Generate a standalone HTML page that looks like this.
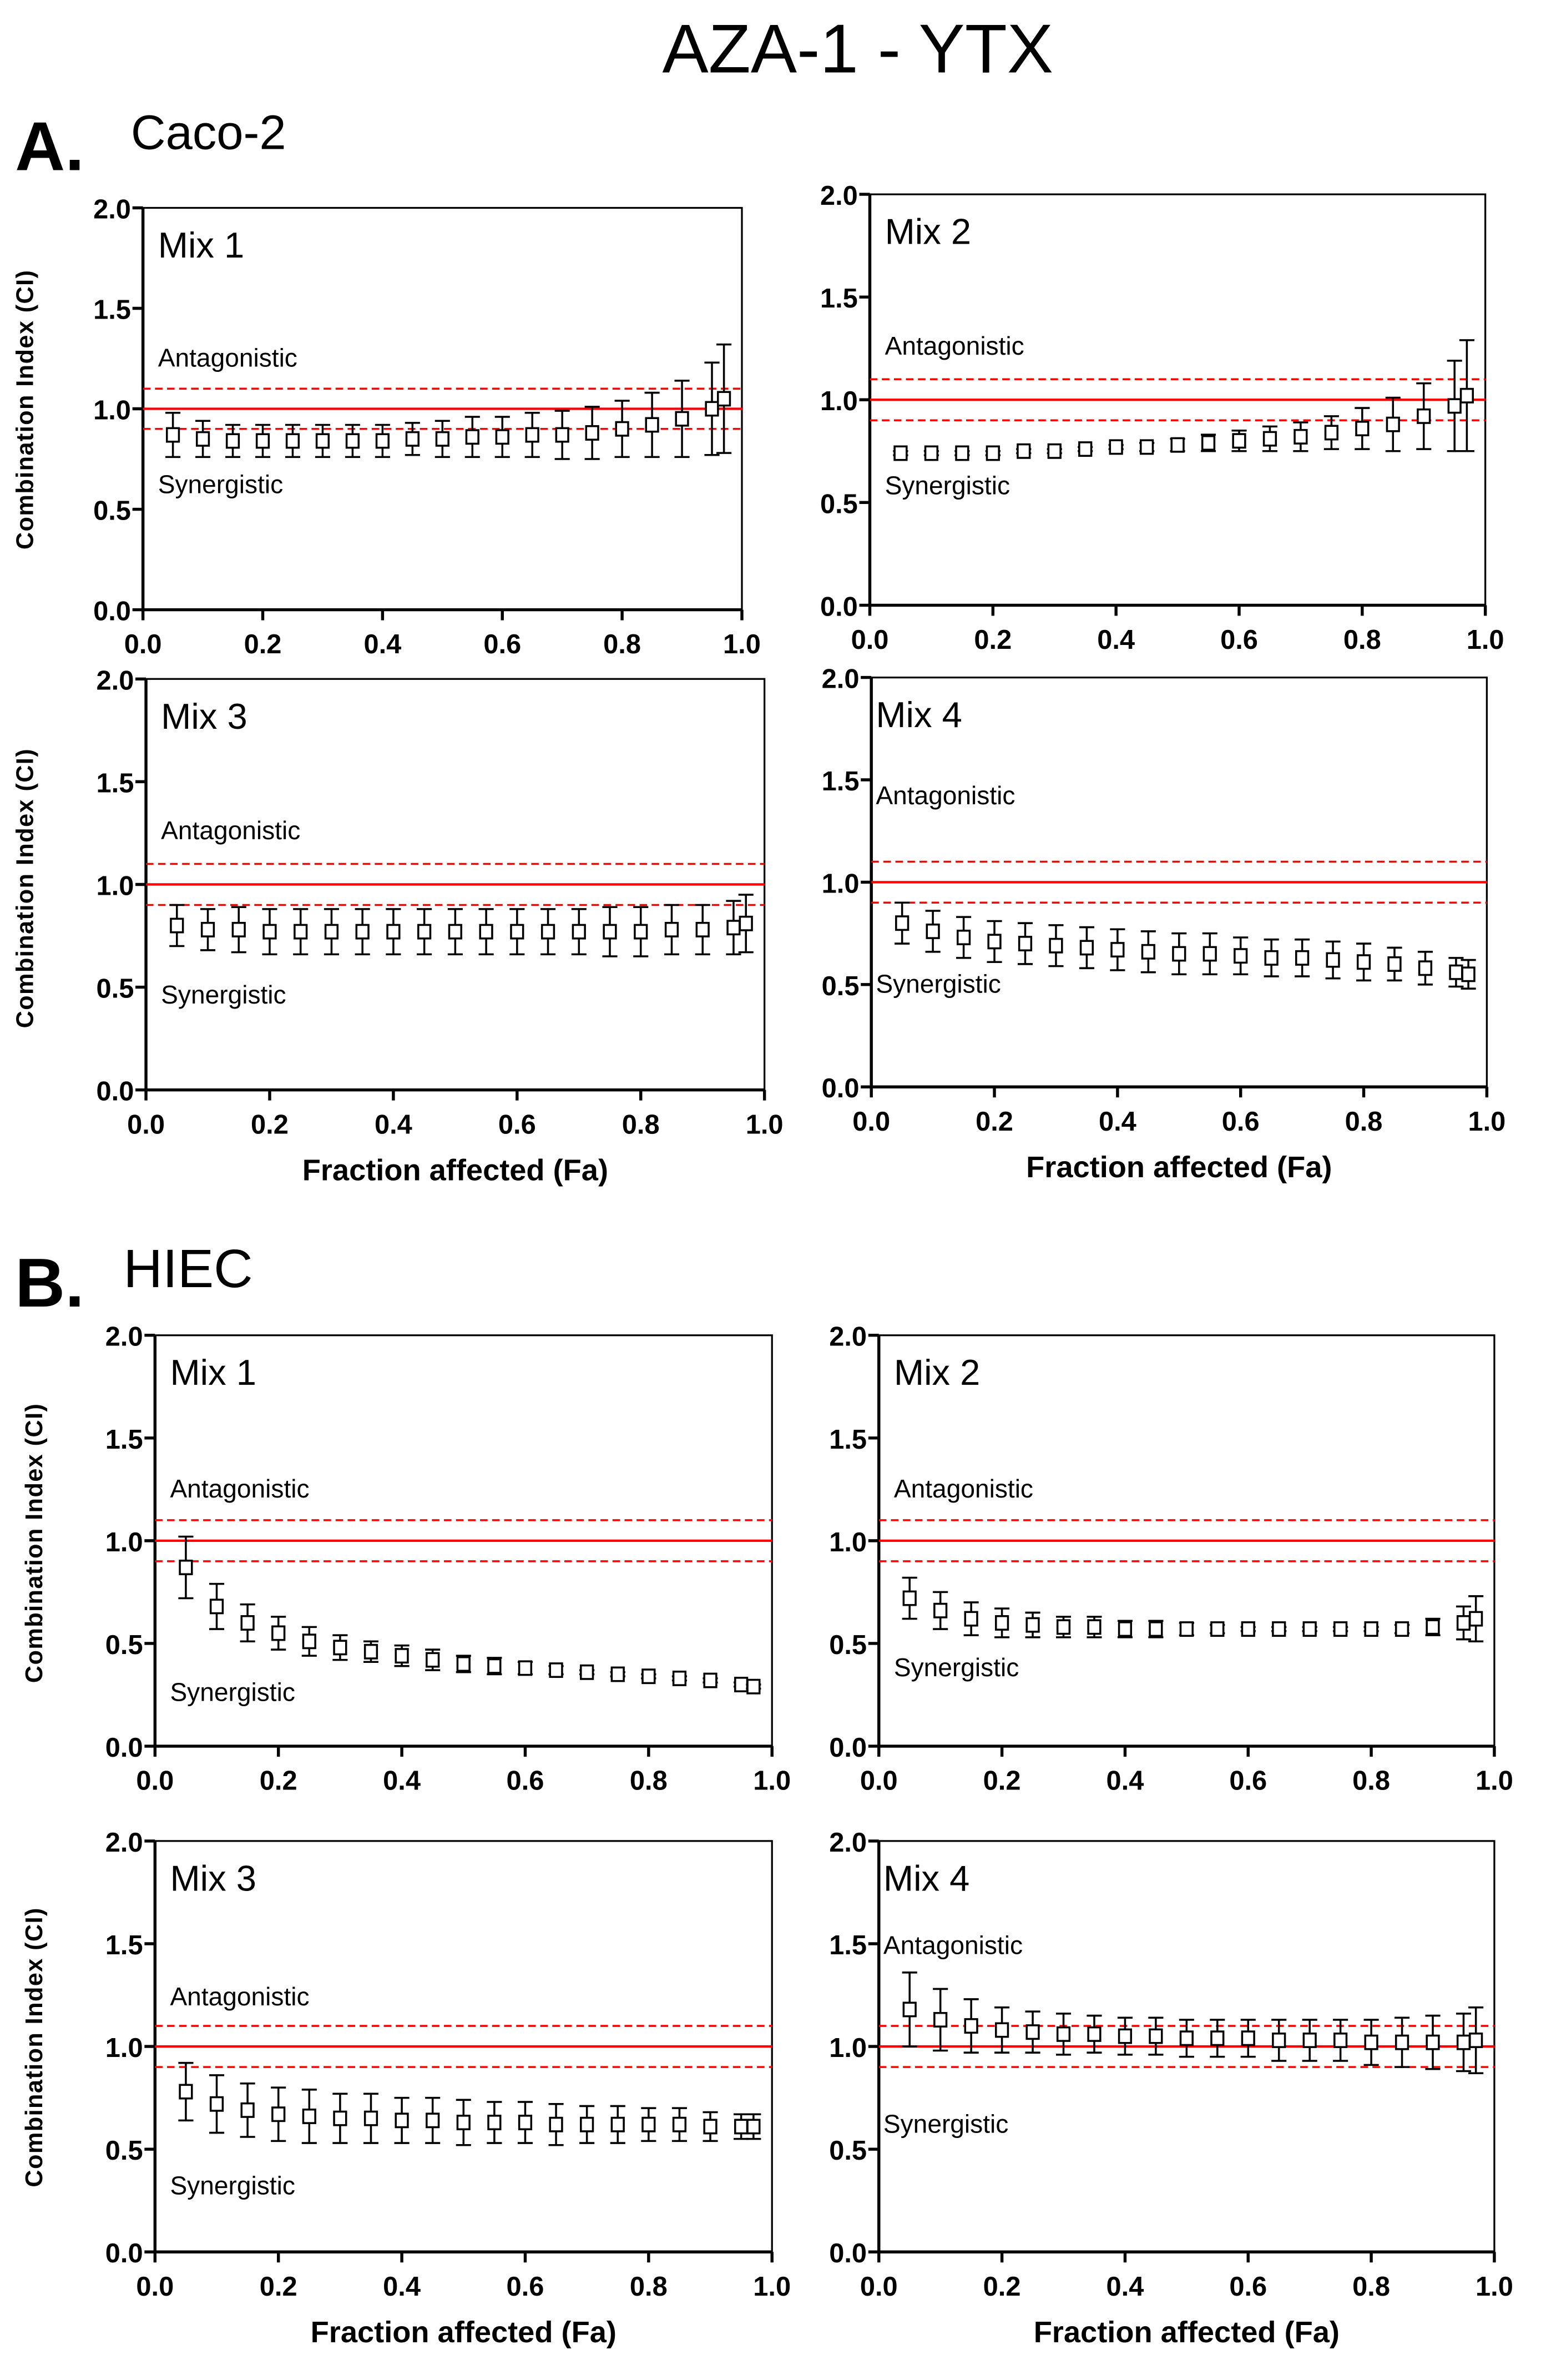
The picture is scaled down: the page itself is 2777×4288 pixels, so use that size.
<!DOCTYPE html>
<html><head><meta charset="utf-8">
<style>
html,body{margin:0;padding:0;background:#fff;}
svg{display:block;font-family:"Liberation Sans",Arial,sans-serif;}
</style></head>
<body>
<svg id="fig" width="2777" height="4288" viewBox="0 0 1024 1581" xmlns="http://www.w3.org/2000/svg">
<text x="570" y="48" font-size="46" text-anchor="middle">AZA-1 - YTX</text>
<text x="10" y="113" font-size="46" font-weight="bold">A.</text>
<text x="87" y="99" font-size="32">Caco-2</text>
<text x="10" y="868" font-size="46" font-weight="bold">B.</text>
<text x="82" y="855" font-size="36">HIEC</text>
<g id="panels"></g>
</svg>
<script>
const fa = [0.05,0.1,0.15,0.2,0.25,0.3,0.35,0.4,0.45,0.5,0.55,0.6,0.65,0.7,0.75,0.8,0.85,0.9,0.95,0.97];
const xTicks = ["0.0","0.2","0.4","0.6","0.8","1.0"];
const yTicks = ["0.0","0.5","1.0","1.5","2.0"];
const a1Ci = [0.87,0.85,0.84,0.84,0.84,0.84,0.84,0.84,0.85,0.85,0.86,0.86,0.87,0.87,0.88,0.9,0.92,0.95,1.0,1.05];
const a1Err = [0.11,0.09,0.08,0.08,0.08,0.08,0.08,0.08,0.08,0.09,0.1,0.1,0.11,0.12,0.13,0.14,0.16,0.19,0.23,0.27];
const a2Ci = [0.74,0.74,0.74,0.74,0.75,0.75,0.76,0.77,0.77,0.78,0.79,0.8,0.81,0.82,0.84,0.86,0.88,0.92,0.97,1.02];
const a2Err = [0.01,0.01,0.01,0.01,0.01,0.01,0.01,0.01,0.02,0.03,0.04,0.05,0.06,0.07,0.08,0.1,0.13,0.16,0.22,0.27];
const a3Ci = [0.8,0.78,0.78,0.77,0.77,0.77,0.77,0.77,0.77,0.77,0.77,0.77,0.77,0.77,0.77,0.77,0.78,0.78,0.79,0.81];
const a3Err = [0.1,0.1,0.11,0.11,0.11,0.11,0.11,0.11,0.11,0.11,0.11,0.11,0.11,0.11,0.12,0.12,0.12,0.12,0.13,0.14];
const a4Ci = [0.8,0.76,0.73,0.71,0.7,0.69,0.68,0.67,0.66,0.65,0.65,0.64,0.63,0.63,0.62,0.61,0.6,0.58,0.56,0.55];
const a4Err = [0.1,0.1,0.1,0.1,0.1,0.1,0.1,0.1,0.1,0.1,0.1,0.09,0.09,0.09,0.09,0.09,0.08,0.08,0.07,0.07];
const b1Ci = [0.87,0.68,0.6,0.55,0.51,0.48,0.46,0.44,0.42,0.4,0.39,0.38,0.37,0.36,0.35,0.34,0.33,0.32,0.3,0.29];
const b1Err = [0.15,0.11,0.09,0.08,0.07,0.06,0.05,0.05,0.05,0.04,0.04,0.03,0.02,0.01,0.01,0.01,0.01,0.01,0.01,0.01];
const b2Ci = [0.72,0.66,0.62,0.6,0.59,0.58,0.58,0.57,0.57,0.57,0.57,0.57,0.57,0.57,0.57,0.57,0.57,0.58,0.6,0.62];
const b2Err = [0.1,0.09,0.08,0.07,0.06,0.05,0.05,0.04,0.04,0.03,0.02,0.01,0.01,0.01,0.01,0.01,0.02,0.04,0.08,0.11];
const b3Ci = [0.78,0.72,0.69,0.67,0.66,0.65,0.65,0.64,0.64,0.63,0.63,0.63,0.62,0.62,0.62,0.62,0.62,0.61,0.61,0.61];
const b3Err = [0.14,0.14,0.13,0.13,0.13,0.12,0.12,0.11,0.11,0.11,0.1,0.1,0.1,0.09,0.09,0.08,0.08,0.07,0.06,0.06];
const b4Ci = [1.18,1.13,1.1,1.08,1.07,1.06,1.06,1.05,1.05,1.04,1.04,1.04,1.03,1.03,1.03,1.02,1.02,1.02,1.02,1.03];
const b4Err = [0.18,0.15,0.13,0.11,0.1,0.1,0.09,0.09,0.09,0.09,0.09,0.09,0.1,0.1,0.1,0.11,0.12,0.13,0.14,0.16];

const NS="http://www.w3.org/2000/svg";
const root=document.getElementById('panels');
function mk(tag,attrs,parent){const e=document.createElementNS(NS,tag);for(const k in attrs)e.setAttribute(k,attrs[k]);parent.appendChild(e);return e;}

const panels=[
 {id:'a-mix1',title:'Mix 1',x0:95,x1:493,y0:405,y1:138,ci:a1Ci,err:a1Err,ant:1.21,syn:0.58,ylab:272,ylx:22},
 {id:'a-mix2',title:'Mix 2',x0:578,x1:987,y0:402,y1:129,ci:a2Ci,err:a2Err,ant:1.22,syn:0.54},
 {id:'a-mix3',title:'Mix 3',x0:97,x1:508,y0:724,y1:451,ci:a3Ci,err:a3Err,ant:1.22,syn:0.42,ylab:590,ylx:22,xlab:784},
 {id:'a-mix4',title:'Mix 4',x0:579,x1:988,y0:722,y1:450,ci:a4Ci,err:a4Err,ant:1.38,syn:0.46,xlab:782,tx:3},
 {id:'b-mix1',title:'Mix 1',x0:103,x1:513,y0:1160,y1:887,ci:b1Ci,err:b1Err,ant:1.21,syn:0.22,ylab:1025,ylx:28},
 {id:'b-mix2',title:'Mix 2',x0:584,x1:993,y0:1160,y1:887,ci:b2Ci,err:b2Err,ant:1.21,syn:0.34},
 {id:'b-mix3',title:'Mix 3',x0:103,x1:513,y0:1496,y1:1223,ci:b3Ci,err:b3Err,ant:1.2,syn:0.28,ylab:1360,ylx:28,xlab:1556},
 {id:'b-mix4',title:'Mix 4',x0:584,x1:993,y0:1496,y1:1223,ci:b4Ci,err:b4Err,ant:1.45,syn:0.58,xlab:1556,tx:3}
];

panels.forEach(p=>{
 const g=mk('g',{},root);
 
 
 const X=v=>p.x0+(p.x1-p.x0)*v;
 const Y=v=>p.y0+(p.y1-p.y0)*v/2;
 // frame
 const fr=mk('path',{d:`M${p.x0} ${p.y1} H${p.x1} V${p.y0}`,fill:'none',stroke:'#000','stroke-width':1.2},g);
 
 
 const ax=mk('path',{d:`M${p.x0} ${p.y1} V${p.y0} H${p.x1}`,fill:'none',stroke:'#000','stroke-width':2},g);
 
 
 // ticks
 xTicks.forEach(t=>{const v=parseFloat(t);const x=X(v);
  mk('line',{x1:x,x2:x,y1:p.y0,y2:p.y0+7,stroke:'#000','stroke-width':2},g);
  const tt=mk('text',{x:x,y:p.y0+29,'font-size':18,'font-weight':'bold','text-anchor':'middle'},g);
  tt.textContent=t;
  
  
 });
 yTicks.forEach(t=>{const v=parseFloat(t);const y=Y(v);
  mk('line',{x1:p.x0-7,x2:p.x0,y1:y,y2:y,stroke:'#000','stroke-width':2},g);
  const tt=mk('text',{x:p.x0-8,y:y+7,'font-size':18,'font-weight':'bold','text-anchor':'end'},g);
  tt.textContent=t;
  
  
 });
 // reference lines
 const r1=mk('line',{x1:p.x0,x2:p.x1,y1:Y(1),y2:Y(1),stroke:'#f00','stroke-width':1.6},g);
 
 
 [1.1,0.9].forEach(v=>{
  const r=mk('line',{x1:p.x0,x2:p.x1,y1:Y(v),y2:Y(v),stroke:'#f00','stroke-width':1.3,'stroke-dasharray':'5 3'},g);
  
  
 });
 // labels
 const tx=p.tx||10;
 const tl=mk('text',{x:p.x0+tx,y:p.y1+33,'font-size':24},g);tl.textContent=p.title;
 
 
 const an=mk('text',{x:p.x0+tx,y:Y(p.ant),'font-size':17},g);an.textContent='Antagonistic';
 
 
 const sy=mk('text',{x:p.x0+tx,y:Y(p.syn),'font-size':17},g);sy.textContent='Synergistic';
 
 
 if(p.ylab){
  const yl=mk('text',{x:p.ylx,y:p.ylab,'font-size':16,'font-weight':'bold','text-anchor':'middle','letter-spacing':'0.5',transform:`rotate(-90 ${p.ylx} ${p.ylab})`},g);
  yl.textContent='Combination Index (CI)';
  
  
 }
 if(p.xlab){
  const xl=mk('text',{x:(p.x0+p.x1)/2,y:p.xlab,'font-size':20,'font-weight':'bold','text-anchor':'middle'},g);
  xl.textContent='Fraction affected (Fa)';
  
  
 }
 // data
 fa.forEach((f,i)=>{
  const x=X(f),y=Y(p.ci[i]),yt=Y(p.ci[i]+p.err[i]),yb=Y(p.ci[i]-p.err[i]);
  const pg=mk('g',{},g);
  
  
  mk('line',{x1:x,x2:x,y1:yt,y2:yb,stroke:'#000','stroke-width':1.3},pg);
  mk('line',{x1:x-5,x2:x+5,y1:yt,y2:yt,stroke:'#000','stroke-width':1.3},pg);
  mk('line',{x1:x-5,x2:x+5,y1:yb,y2:yb,stroke:'#000','stroke-width':1.3},pg);
  mk('rect',{x:x-4,y:y-4.5,width:8,height:9,fill:'#fff',stroke:'#000','stroke-width':1.3},pg);
 });
});
</script>
</body></html>
